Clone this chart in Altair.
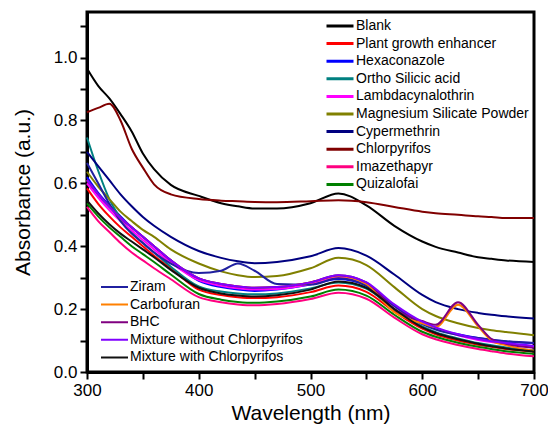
import altair as alt
import pandas as pd

WL = [300, 310, 320, 330, 340, 350, 360, 375, 400, 420, 435, 450, 470, 500, 525, 550, 575, 600, 612, 632, 650, 662, 675, 700]

blank = [0.965, 0.91, 0.87, 0.82, 0.765, 0.695, 0.645, 0.595, 0.56, 0.537, 0.527, 0.52, 0.52, 0.537, 0.568, 0.53, 0.465, 0.415, 0.398, 0.38, 0.365, 0.36, 0.355, 0.35]
plant = [0.584, 0.535, 0.495, 0.46, 0.43, 0.40, 0.37, 0.33, 0.262, 0.245, 0.238, 0.235, 0.238, 0.254, 0.275, 0.255, 0.192, 0.138, 0.12, 0.10, 0.087, 0.08, 0.073, 0.065]
hexa = [0.62, 0.57, 0.53, 0.495, 0.46, 0.43, 0.40, 0.355, 0.29, 0.27, 0.262, 0.258, 0.262, 0.278, 0.296, 0.275, 0.21, 0.155, 0.138, 0.12, 0.108, 0.102, 0.097, 0.092]
ortho = [0.746, 0.64, 0.55, 0.49, 0.445, 0.41, 0.38, 0.335, 0.272, 0.256, 0.25, 0.247, 0.25, 0.266, 0.285, 0.265, 0.20, 0.145, 0.127, 0.107, 0.092, 0.085, 0.078, 0.068]
lambd = [0.60, 0.555, 0.515, 0.48, 0.45, 0.42, 0.39, 0.348, 0.292, 0.274, 0.266, 0.262, 0.264, 0.28, 0.302, 0.28, 0.21, 0.155, 0.138, 0.117, 0.102, 0.095, 0.089, 0.08]
magsil = [0.637, 0.59, 0.55, 0.51, 0.48, 0.452, 0.43, 0.39, 0.345, 0.32, 0.308, 0.302, 0.305, 0.33, 0.363, 0.34, 0.27, 0.20, 0.178, 0.155, 0.14, 0.133, 0.127, 0.117]
cyper = [0.70, 0.655, 0.61, 0.565, 0.527, 0.493, 0.465, 0.43, 0.385, 0.363, 0.352, 0.346, 0.35, 0.368, 0.394, 0.37, 0.31, 0.245, 0.222, 0.20, 0.188, 0.182, 0.177, 0.17]
chlor = [0.826, 0.84, 0.853, 0.80, 0.71, 0.65, 0.597, 0.565, 0.55, 0.545, 0.543, 0.541, 0.54, 0.543, 0.546, 0.54, 0.525, 0.51, 0.505, 0.50, 0.495, 0.493, 0.49, 0.49]
imaz = [0.525, 0.48, 0.445, 0.41, 0.38, 0.355, 0.33, 0.295, 0.238, 0.222, 0.215, 0.212, 0.216, 0.232, 0.252, 0.233, 0.173, 0.12, 0.104, 0.086, 0.073, 0.066, 0.059, 0.05]
quiz = [0.536, 0.495, 0.46, 0.43, 0.40, 0.375, 0.35, 0.31, 0.248, 0.23, 0.223, 0.22, 0.224, 0.24, 0.262, 0.243, 0.182, 0.128, 0.112, 0.093, 0.08, 0.073, 0.066, 0.058]
ziram = [0.665, 0.60, 0.535, 0.48, 0.44, 0.41, 0.38, 0.345, 0.315, 0.322, 0.345, 0.322, 0.28, 0.278, 0.298, 0.275, 0.21, 0.152, 0.135, 0.118, 0.108, 0.103, 0.098, 0.092]
carbo = [0.61, 0.565, 0.525, 0.49, 0.46, 0.43, 0.40, 0.355, 0.298, 0.28, 0.272, 0.268, 0.27, 0.285, 0.305, 0.28, 0.19, 0.155, 0.143, 0.214, 0.145, 0.10, 0.085, 0.068]
bhc = [0.61, 0.565, 0.525, 0.49, 0.46, 0.43, 0.40, 0.355, 0.298, 0.28, 0.272, 0.268, 0.27, 0.285, 0.308, 0.285, 0.20, 0.162, 0.15, 0.222, 0.15, 0.105, 0.09, 0.077]
mix_wo = [0.61, 0.565, 0.525, 0.49, 0.46, 0.43, 0.40, 0.355, 0.298, 0.28, 0.272, 0.268, 0.27, 0.285, 0.308, 0.285, 0.215, 0.16, 0.142, 0.12, 0.105, 0.098, 0.092, 0.083]
mix_w = [0.546, 0.505, 0.47, 0.44, 0.415, 0.39, 0.365, 0.325, 0.268, 0.25, 0.243, 0.24, 0.244, 0.262, 0.288, 0.268, 0.20, 0.142, 0.124, 0.104, 0.09, 0.082, 0.075, 0.065]

names1 = ["Blank", "Plant growth enhancer", "Hexaconazole", "Ortho Silicic acid", "Lambdacynalothrin",
          "Magnesium Silicate Powder", "Cypermethrin", "Chlorpyrifos", "Imazethapyr", "Quizalofai"]
series1 = [blank, plant, hexa, ortho, lambd, magsil, cyper, chlor, imaz, quiz]
colors1 = ["#000000", "#FF0000", "#0000FF", "#008080", "#FF00FF", "#808000", "#000080", "#800000", "#FF0080", "#008000"]

names2 = ["Ziram", "Carbofuran", "BHC", "Mixture without Chlorpyrifos", "Mixture with Chlorpyrifos"]
series2 = [ziram, carbo, bhc, mix_wo, mix_w]
colors2 = ["#2020A0", "#FF8000", "#800080", "#8000FF", "#111111"]
widths2 = [2, 2, 3, 4, 2]


def frame(names, series):
    rows = []
    for i, (n, s) in enumerate(zip(names, series)):
        for w, v in zip(WL, s):
            rows.append({"name": n, "wl": w, "abs": v, "ord": i})
    return pd.DataFrame(rows)


df1 = frame(names1, series1)
df2 = frame(names2, series2)

FONT = "Liberation Sans"

xenc = alt.X("wl:Q", scale=alt.Scale(domain=[300, 700], nice=False, zero=False),
             axis=alt.Axis(title="Wavelength (nm)", values=list(range(300, 701, 50)),
                           labelFlush=False, labelOverlap=False,
                           labelExpr="datum.value % 100 === 0 ? datum.label : ''"))
yenc = alt.Y("abs:Q", scale=alt.Scale(domain=[0, 1.145], nice=False),
             axis=alt.Axis(title="Absorbance (a.u.)", values=[round(i * 0.1, 1) for i in range(12)],
                           labelFlush=False, labelOverlap=False,
                           labelExpr="round(datum.value*10) % 2 === 0 ? format(datum.value, '.1f') : ''"))


def legend(x, y):
    return alt.Legend(orient="none", legendX=x, legendY=y, title=None, symbolType="stroke",
                      symbolSize=729, symbolStrokeWidth=3, labelFontSize=14, labelFont=FONT,
                      labelColor="black", clipHeight=12, rowPadding=3.6, labelOffset=1,
                      padding=0, labelLimit=400)


l1 = alt.Chart(df1).mark_line(interpolate="monotone", strokeWidth=2).encode(
    x=xenc, y=yenc,
    color=alt.Color("name:N", sort=names1, scale=alt.Scale(domain=names1, range=colors1), legend=legend(238, 8)),
    order="ord:Q",
)

l2 = alt.Chart(df2).mark_line(interpolate="monotone").encode(
    x=xenc, y=yenc,
    color=alt.Color("name:N", sort=names2, scale=alt.Scale(domain=names2, range=colors2), legend=legend(13, 269)),
    strokeWidth=alt.StrokeWidth("name:N", scale=alt.Scale(domain=names2, range=widths2), legend=None),
    order="ord:Q",
)

chart = alt.layer(l1, l2).resolve_scale(color="independent", strokeWidth="independent").properties(
    width=447, height=360,
    autosize=alt.AutoSizeParams(type="none"),
    padding={"left": 79, "top": 4, "right": 14, "bottom": 55},
).configure_view(stroke="black", strokeWidth=3).configure_axis(
    grid=False, domainColor="black", domainWidth=3, tickColor="black", tickWidth=2, tickSize=7,
    labelFont=FONT, labelFontSize=17, labelColor="black", titleFont=FONT, titleFontSize=21,
    titleFontWeight="normal", titleColor="black", labelPadding=3,
).configure_axisY(titlePadding=20).configure_axisX(titlePadding=4)

chart.save("out.html", embed_options={"renderer": "svg", "actions": False})
